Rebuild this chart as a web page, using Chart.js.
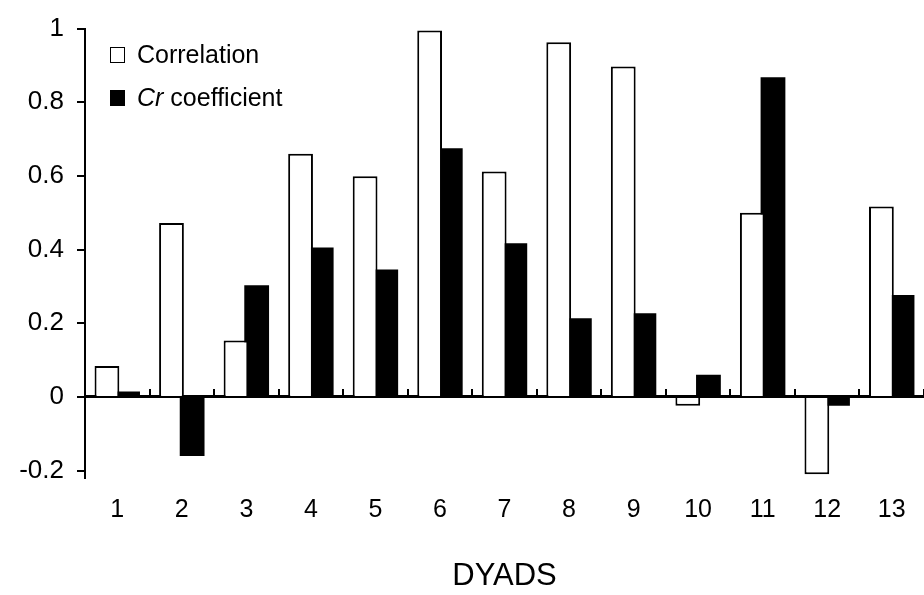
<!DOCTYPE html>
<html>
<head>
<meta charset="utf-8">
<script src="https://cdn.jsdelivr.net/npm/chart.js@4/dist/chart.umd.min.js"></script>
<style>
  html, body { margin: 0; padding: 0; background: #fff; }
  #wrap { position: relative; width: 924px; height: 595px; }
  #legend { position: absolute; left: 110px; top: 33px; font-family: "Liberation Sans", Arial, sans-serif; font-size: 25px; color: #000; }
  #legend div { height: 43px; display: flex; align-items: center; position: relative; }
  #legend .box { width: 13px; height: 14px; border: 1.5px solid #000; margin-right: 12px; box-sizing: content-box; }
</style>
</head>
<body>
<div id="wrap">
  <canvas id="chart" width="924" height="595"></canvas>
  <div id="legend"></div>
</div>
<script>
// data
const dyads = ["1", "2", "3", "4", "5", "6", "7", "8", "9", "10", "11", "12", "13"];
const correlation = [0.084, 0.472, 0.153, 0.66, 0.599, 0.995, 0.612, 0.963, 0.897, -0.024, 0.5, -0.21, 0.517];
const crCoefficient = [0.015, -0.16, 0.303, 0.406, 0.346, 0.675, 0.417, 0.214, 0.227, 0.06, 0.868, -0.024, 0.277];
const yTicks = [-0.2, 0, 0.2, 0.4, 0.6, 0.8, 1];
const yTickLabels = ["-0.2", "0", "0.2", "0.4", "0.6", "0.8", "1"];

const font = "'Liberation Sans', Arial, sans-serif";

// legend as html so "Cr" can be italic
const legendEl = document.getElementById("legend");
legendEl.innerHTML =
  '<div><span class="box" style="background:#fff"></span>Correlation</div>' +
  '<div><span class="box" style="background:#000"></span><i>Cr</i>&nbsp;coefficient</div>';

new Chart(document.getElementById("chart"), {
  type: "bar",
  data: {
    labels: dyads,
    datasets: [
      {
        label: "Correlation",
        data: correlation,
        backgroundColor: "#fff",
        borderColor: "#000",
        borderWidth: 2,
        categoryPercentage: 0.64,
        barPercentage: 1.2
      },
      {
        label: "Cr coefficient",
        data: crCoefficient,
        backgroundColor: "#000",
        borderColor: "#000",
        borderWidth: 0,
        categoryPercentage: 0.64,
        barPercentage: 1.2
      }
    ]
  },
  options: {
    responsive: false,
    animation: false,
    layout: { padding: { top: 23, right: 0, left: 0, bottom: 0 } },
    plugins: { legend: { display: false }, tooltip: { enabled: false } },
    scales: {
      // labels along the bottom
      x: {
        position: "bottom",
        grid: { display: false },
        border: { display: false },
        ticks: { color: "#000", font: { family: font, size: 25 }, padding: 9, maxRotation: 0 },
        title: { display: true, text: "DYADS", color: "#000", font: { family: font, size: 31 }, padding: { top: 0, bottom: 0 } },
        afterFit: s => { s.height = 117; }
      },
      // zero line with upward tick marks between dyads
      x0: {
        type: "category",
        labels: dyads,
        position: { y: 0 },
        offset: true,
        grid: { display: true, drawOnChartArea: false, drawTicks: true, tickLength: -9, color: "#000", lineWidth: 2, offset: true },
        border: { display: true, color: "#000", width: 3 },
        ticks: { display: false }
      },
      y: {
        min: -0.22,
        max: 1,
        afterBuildTicks: s => { s.ticks = yTicks.map(v => ({ value: v })); },
        grid: { drawOnChartArea: false, drawTicks: true, tickLength: 8, color: "#000", lineWidth: 2 },
        border: { display: true, color: "#000", width: 2 },
        ticks: {
          color: "#000",
          font: { family: font, size: 26 },
          padding: 13,
          callback: (v, i) => yTickLabels[yTicks.indexOf(Math.round(v * 10) / 10)]
        },
        afterFit: s => { s.width = 85; }
      }
    }
  }
});
</script>
</body>
</html>
